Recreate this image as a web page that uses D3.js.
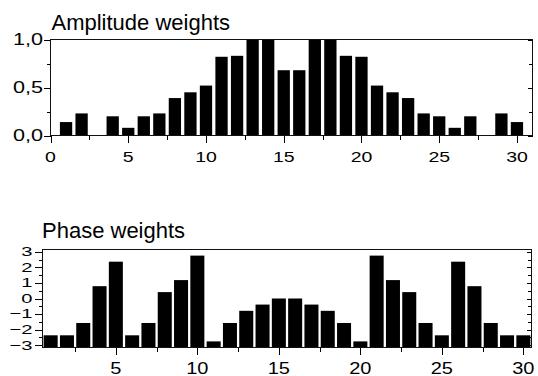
<!DOCTYPE html>
<html><head><meta charset="utf-8">
<script src="https://cdn.jsdelivr.net/npm/d3@7"></script>
<style>
body{margin:0;background:#fff}
svg{display:block}
text{font-family:"Liberation Sans",Arial,sans-serif;fill:#000}
</style>
</head><body><svg id="c" width="538" height="376"></svg>
<script>
// ---- data ----
const elements = [1,2,3,4,5,6,7,8,9,10,11,12,13,14,15,16,17,18,19,20,21,22,23,24,25,26,27,28,29,30];
const amplitude = [0.14,0.23,0,0.20,0.08,0.20,0.23,0.39,0.45,0.52,0.82,0.83,1,1,0.68,0.68,1,1,0.83,0.82,0.52,0.45,0.39,0.23,0.20,0.08,0.20,0,0.23,0.14];
const phase = [-2.36,-2.36,-1.57,0.79,2.36,-2.36,-1.57,0.41,1.18,2.75,-2.75,-1.57,-0.79,-0.39,0,0,-0.39,-0.79,-1.57,-2.75,2.75,1.18,0.41,-1.57,-2.36,2.36,0.79,-1.57,-2.36,-2.36];
const ampXTicks = [0,5,10,15,20,25,30];
const ampXMinor = [2.5,7.5,12.5,17.5,22.5,27.5];
const ampYTicks = [0,0.5,1];
const ampYMinor = [0.25,0.75];
const phXTicks = [5,10,15,20,25,30];
const phXMinor = [2.5,7.5,12.5,17.5,22.5,27.5];
const phYTicks = [-3,-2,-1,0,1,2,3];
const phYMinor = [-2.5,-1.5,-0.5,0.5,1.5,2.5];
const titles = ["Amplitude weights","Phase weights"];

const svg = d3.select("#c");

function panel(cfg){
  const g = svg.append("g");
  const x = d3.scaleLinear().domain(cfg.xDomain).range([cfg.left, cfg.right]);
  const y = d3.scaleLinear().domain(cfg.yDomain).range([cfg.bottom, cfg.top]);
  const y0 = cfg.baseline;
  // bars
  g.append("g").selectAll("rect").data(elements.map((e,i)=>({e, v: cfg.values[i]})))
    .join("rect")
    .attr("x", d => x(d.e - cfg.barW/2))
    .attr("width", d => x(cfg.barW) - x(0))
    .attr("y", d => Math.min(y(d.v), y(y0)))
    .attr("height", d => Math.abs(y(y0) - y(d.v)))
    .attr("fill", "#000");
  const axStyle = sel => { sel.select(".domain").remove(); sel.selectAll("text").remove();
    sel.selectAll("line").attr("stroke","#000").attr("shape-rendering","crispEdges"); };
  // bottom axis ticks
  g.append("g").attr("transform",`translate(0,${cfg.bottom})`)
    .call(d3.axisBottom(x).tickValues(cfg.xTicks).tickSizeInner(7).tickSizeOuter(0)).call(axStyle);
  g.append("g").attr("transform",`translate(0,${cfg.bottom})`)
    .call(d3.axisBottom(x).tickValues(cfg.xMinor).tickSizeInner(4).tickSizeOuter(0)).call(axStyle);
  // left axis ticks
  g.append("g").attr("transform",`translate(${cfg.left},0)`)
    .call(d3.axisLeft(y).tickValues(cfg.yTicks).tickSizeInner(cfg.yMajLen).tickSizeOuter(0)).call(axStyle);
  g.append("g").attr("transform",`translate(${cfg.left},0)`)
    .call(d3.axisLeft(y).tickValues(cfg.yMinor).tickSizeInner(4).tickSizeOuter(0)).call(axStyle);
  // right axis ticks (inward)
  g.append("g").attr("transform",`translate(${cfg.right},0)`)
    .call(d3.axisLeft(y).tickValues(cfg.yTicks).tickSizeInner(5).tickSizeOuter(0)).call(axStyle);
  g.append("g").attr("transform",`translate(${cfg.right},0)`)
    .call(d3.axisLeft(y).tickValues(cfg.yMinor).tickSizeInner(4).tickSizeOuter(0)).call(axStyle);
  // frame
  g.append("rect").attr("x", cfg.left).attr("y", cfg.top)
    .attr("width", cfg.right - cfg.left).attr("height", cfg.bottom - cfg.top)
    .attr("fill","none").attr("stroke","#111").attr("stroke-width",1).attr("shape-rendering","crispEdges");
  // x labels
  g.append("g").selectAll("text").data(cfg.xTicks).join("text")
    .attr("text-anchor","middle").style("font-size", cfg.xFont + "px")
    .attr("transform", d => `translate(${x(d)},${cfg.bottom + cfg.xLabelDy}) scale(${cfg.xScale},1)`)
    .text(d => d);
  // y labels
  g.append("g").selectAll("text").data(cfg.yTicks).join("text")
    .attr("text-anchor","end").attr("dominant-baseline","central").style("font-size", cfg.yFont + "px")
    .attr("transform", d => `translate(${cfg.yLabelX},${y(d)}) scale(${cfg.yScaleX},1)`)
    .text(cfg.yFormat);
  // title
  g.append("text").attr("x", cfg.titleX).attr("y", cfg.titleY).style("font-size","22px").text(cfg.title);
}

panel({
  values: amplitude, baseline: 0, barW: 0.79,
  xDomain: [0,31], yDomain: [0,1],
  left: 50.5, right: 532.5, top: 39.5, bottom: 135.5,
  xTicks: ampXTicks, xMinor: ampXMinor, yTicks: ampYTicks, yMinor: ampYMinor, yMajLen: 7,
  xFont: 15, xScale: 1.3, xLabelDy: 26.5,
  yFont: 16, yScaleX: 1.35, yLabelX: 43,
  yFormat: d => d3.format(".1f")(d).replace(".", ","),
  title: titles[0], titleX: 51.5, titleY: 30
});

panel({
  values: phase, baseline: -Math.PI, barW: 0.86,
  xDomain: [0.5,30.5], yDomain: [-Math.PI, Math.PI],
  left: 42.5, right: 531.5, top: 249.5, bottom: 347.5,
  xTicks: phXTicks, xMinor: phXMinor, yTicks: phYTicks, yMinor: phYMinor, yMajLen: 8,
  xFont: 16, xScale: 1.25, xLabelDy: 26,
  yFont: 13, yScaleX: 1.55, yLabelX: 32.5,
  yFormat: d => d3.format("d")(d),
  title: titles[1], titleX: 42, titleY: 237.5
});
</script>
</body></html>
